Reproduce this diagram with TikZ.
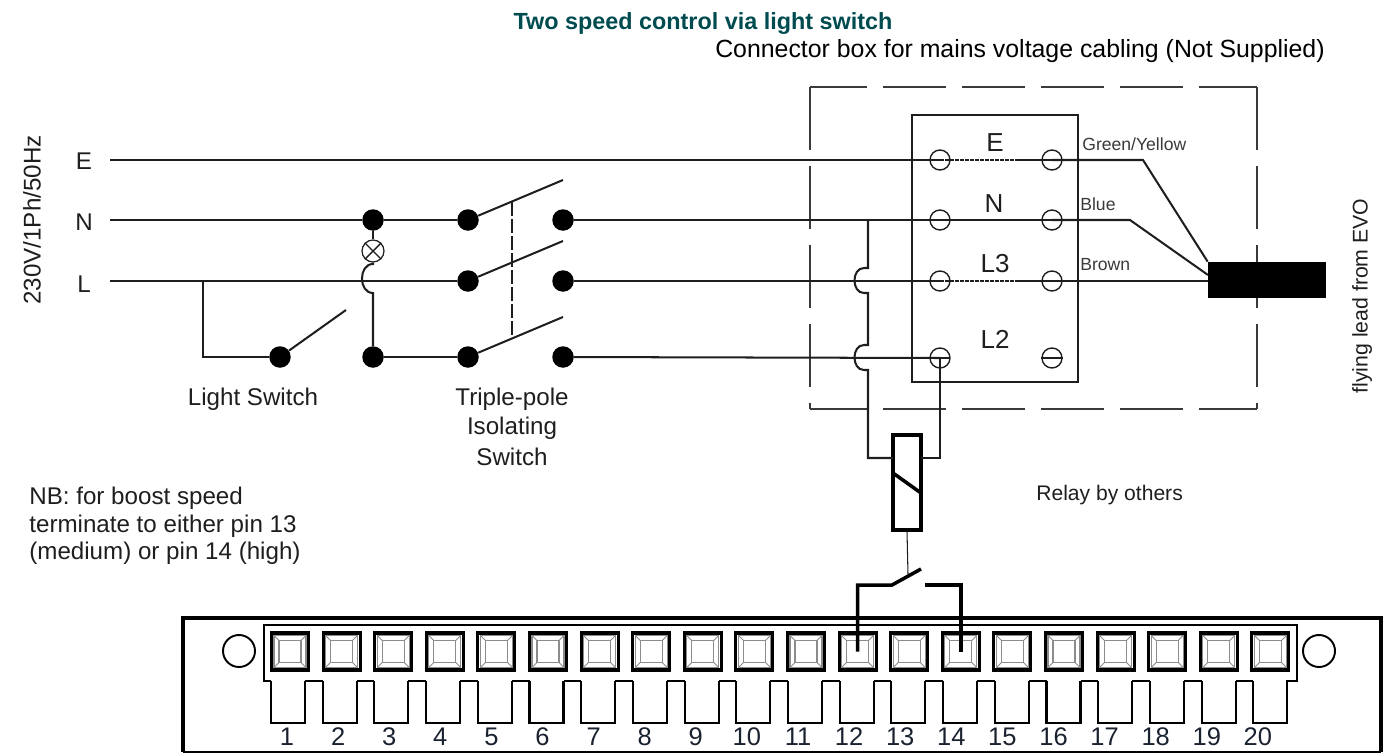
\documentclass[tikz,border=0pt]{standalone}
\usepackage{fontspec}
\setmainfont{Liberation Sans}
\definecolor{wirecol}{HTML}{1E1E1E}
\definecolor{titlecol}{HTML}{004B50}
\definecolor{bevelcol}{HTML}{8C8C8C}
\definecolor{boxcol}{HTML}{3A3A3A}
\definecolor{numcol}{HTML}{1A2230}
\tikzset{
  wire/.style={draw=wirecol,line width=1.15pt},
  boxline/.style={draw=boxcol,line width=1.35pt,dash pattern=on 1.27cm off 0.31cm},
  thickwire/.style={draw=black,line width=2pt},
  dot/.style={circle,fill=black,inner sep=0pt,minimum size=0.43cm},
  term/.style={circle,draw=wirecol,line width=0.8pt,inner sep=0pt,minimum size=0.4cm},
  lbl/.style={font=\fontsize{13.75}{15}\selectfont,text=wirecol,inner sep=0pt},
  big/.style={font=\fontsize{14.8}{15}\selectfont,text=wirecol,inner sep=0pt},
  small/.style={font=\fontsize{10}{11}\selectfont,text=boxcol,inner sep=0pt,anchor=west},
  pin/.style={rectangle,draw=black,line width=1.8pt,inner sep=0pt,minimum size=0.74cm},
  pinnum/.style={font=\fontsize{14.5}{15}\selectfont,text=numcol,inner sep=0pt}
}
\begin{document}
\begin{tikzpicture}[x=0.02cm,y=-0.02cm]
  \useasboundingbox (0,0) rectangle (1400,754);

  \node[font=\fontsize{13.3}{15}\selectfont\bfseries,text=titlecol,inner sep=0pt] (title) at (703,24) {Two speed control via light switch};
  \node[font=\fontsize{14.15}{15}\selectfont,text=black,inner sep=0pt] (boxtitle) at (1020,51) {Connector box for mains voltage cabling (Not Supplied)};
  \node[lbl,rotate=90] (supply) at (32,220) {230V/1Ph/50Hz};
  \node[lbl] (lE) at (84,161) {E};
  \node[lbl] (lN) at (84,222) {N};
  \node[lbl] (lL) at (84,284) {L};
  \coordinate (sE) at (110,160);
  \coordinate (sN) at (110,220);
  \coordinate (sL) at (110,281);

  % dots
  \node[dot] (dn1) at (373,220) {};
  \node[dot] (dn2) at (468,220) {};
  \node[dot] (dn3) at (563,220) {};
  \node[dot] (dl2) at (468,281) {};
  \node[dot] (dl3) at (563,281) {};
  \node[dot] (ds0) at (280,357) {};
  \node[dot] (ds1) at (373,357) {};
  \node[dot] (ds2) at (468,357) {};
  \node[dot] (ds3) at (563,357) {};
  \node[circle,draw=wirecol,line width=0.7pt,inner sep=0pt,minimum size=0.44cm] (lamp) at (373,251) {};
  \draw[wire,line width=0.8pt] (lamp.north west) -- (lamp.south east);
  \draw[wire,line width=0.8pt] (lamp.north east) -- (lamp.south west);

  % connector box
  \draw[boxline,dash phase=0.12cm] (810,87) -- (1257,87);
  \draw[boxline,dash phase=0.12cm] (810,409) -- (1257,409);
  \draw[boxline] (810,87) -- (810,409);
  \draw[boxline] (1257,87) -- (1257,409);
  \node[rectangle,draw=wirecol,line width=1.1pt,inner sep=0pt,minimum width=3.32cm,minimum height=5.34cm] (cbox) at (995,248.5) {};
  \node[term] (t1) at (940,160) {};
  \node[term] (t2) at (1052,160) {};
  \node[term] (t3) at (940,220) {};
  \node[term] (t4) at (1052,220) {};
  \node[term] (t5) at (940,281) {};
  \node[term] (t6) at (1052,281) {};
  \node[term] (t7) at (940,358) {};
  \node[term] (t8) at (1052,358) {};
  \node[big] (cE) at (995,143) {E};
  \node[big] (cN) at (994,204) {N};
  \node[big] (cL3) at (995,264) {L3};
  \node[big] (cL2) at (995,339) {L2};
  \node[small] (gy) at (1082,144) {Green/Yellow};
  \node[small] (bl) at (1080,204) {Blue};
  \node[small] (br) at (1080,265) {Brown};
  \node[rectangle,fill=black,inner sep=0pt,minimum width=2.36cm,minimum height=0.72cm] (lead) at (1267,280) {};
  \coordinate (ln) at (1208,275);
  \node[lbl,font=\fontsize{12.1}{15}\selectfont,rotate=90] (evo) at (1362,296) {flying lead from EVO};

  % wires
  \draw[wire] (sE) -- (t1.center);
  \draw[wire] (sN) -- (dn1) -- (dn2);
  \draw[wire] (dn3) -- (t3.center) -- (t4.center);
  \draw[wire] (sL) -- (dl2);
  \draw[wire] (dl3) -- (t5.center);
  \draw[wire] (203,281) -- (203,357) -- (ds0);
  \draw[wire] (ds1) -- (ds2);
  \draw[wire] (ds3) -- (t7.center);
  \draw[wire] (dn1) -- (lamp);
  \draw[wire] (lamp) -- (373,264) to[out=180,in=180,looseness=1.3] (373,293) -- (ds1);
  \draw[wire] (ds0) -- (346,310);
  \draw[wire] (dn2) -- (563,180);
  \draw[wire] (dl2) -- (563,241);
  \draw[wire] (ds2) -- (563,317);
  \draw[wire,dash pattern=on 0.28cm off 0.06cm] (512,202) -- (512,338);

  % links across the terminals
  \draw[wire,line width=0.9pt,dash pattern=on 0.07cm off 0.03cm] (t1.center) -- (1017,160);
  \draw[wire] (1017,160) -- (t2.center);
  \draw[wire,line width=0.9pt,dash pattern=on 0.07cm off 0.03cm] (t5.center) -- (1017,281);
  \draw[wire] (1017,281) -- (t6.center);
  \draw[wire] (t7.center) -- (950,358);
  \draw[wire,line width=0.8pt] (t8.west) -- (t8.east);
  \draw[wire] (t2.center) -- (1143,160) -- (lead.north west);
  \draw[wire] (t4.center) -- (1130,220) -- (ln);
  \draw[wire] (t6.center) -- (lead.west |- t6.center);

  % relay
  \node[rectangle,draw=black,line width=1.9pt,inner sep=0pt,minimum width=0.56cm,minimum height=1.9cm] (relay) at (907,482.5) {};
  \draw[thickwire] (893,473) -- (921,493);
  \draw[wire] (868,220) -- (868,268) -- (864,268) to[out=180,in=180,looseness=1.3] (864,293) -- (868,293)
     -- (868,345) -- (864,345) to[out=180,in=180,looseness=1.3] (864,370) -- (868,370) -- (868,458) -- (893,458);
  \draw[wire] (t7.center) -- (940,458) -- (921,458);
  \draw[wirecol,line width=0.6pt] (relay.south) -- (908,574);

  % pins
  \draw[draw=black,line width=2.2pt] (183,752) -- (183,618) -- (1381,618) -- (1381,752);
  \draw[draw=black,line width=1.2pt] (183,752) -- (1381,752);
  \draw[draw=black,line width=1.2pt] (271,681) -- (264,681) -- (264,625) -- (1297,625) -- (1297,681) -- (1286,681);
  \node[circle,draw=black,line width=1.1pt,inner sep=0pt,minimum size=0.64cm] (holea) at (239,651) {};
  \node[circle,draw=black,line width=1.1pt,inner sep=0pt,minimum size=0.64cm] (holeb) at (1319,651) {};
  \foreach \n in {1,...,20} {
    \pgfmathsetmacro{\px}{290+51.6*(\n-1)}
    \pgfmathsetmacro{\tx}{271+51.7*(\n-1)}
    \node[pin] (p\n) at (\px,651.5) {};
    \draw[bevelcol,line width=0.6pt] (\px-16,635.5) rectangle (\px+16,667.5);
    \draw[bevelcol,line width=0.6pt] (\px-11,640.5) rectangle (\px+11,662.5);
    \draw[bevelcol,line width=0.5pt] (\px-16,635.5) -- (\px-11,640.5) (\px+16,635.5) -- (\px+11,640.5)
       (\px-16,667.5) -- (\px-11,662.5) (\px+16,667.5) -- (\px+11,662.5);
    \draw[draw=black,line width=1.2pt] (\tx,681) -- (\tx,723) -- (\tx+34,723) -- (\tx+34,681);
    \node[pinnum] (n\n) at (287+51.1*\n-51.1,737) {\n};
  }
  \foreach \n [evaluate=\n as \gx using 271+51.7*(\n-1)+34] in {1,...,19} {
    \draw[draw=black,line width=1.2pt] (\gx,681) -- (\gx+17.7,681);
  }

  % relay contact
  \coordinate (ca) at (892,585);
  \coordinate (cb) at (925,585);
  \draw[thickwire] (p12.center) -- (p12.center |- ca) -- (ca) -- (921,569);
  \draw[thickwire] (p14.center) -- (p14.center |- cb) -- (cb);

  % texts
  \node[lbl] (lswitch) at (253,399) {Light Switch};
  \node[lbl] (tp1) at (512,399) {Triple-pole};
  \node[lbl] (tp2) at (512,428) {Isolating};
  \node[lbl] (tp3) at (512,457) {Switch};
  \node[lbl,anchor=west,font=\fontsize{12}{13}\selectfont] (rel) at (1036,495) {Relay by others};
  \node[lbl,anchor=west] (nb1) at (29,498) {NB: for boost speed};
  \node[lbl,anchor=west] (nb2) at (29,526) {terminate to either pin 13};
  \node[lbl,anchor=west] (nb3) at (29,553) {(medium) or pin 14 (high)};
\end{tikzpicture}
\end{document}
